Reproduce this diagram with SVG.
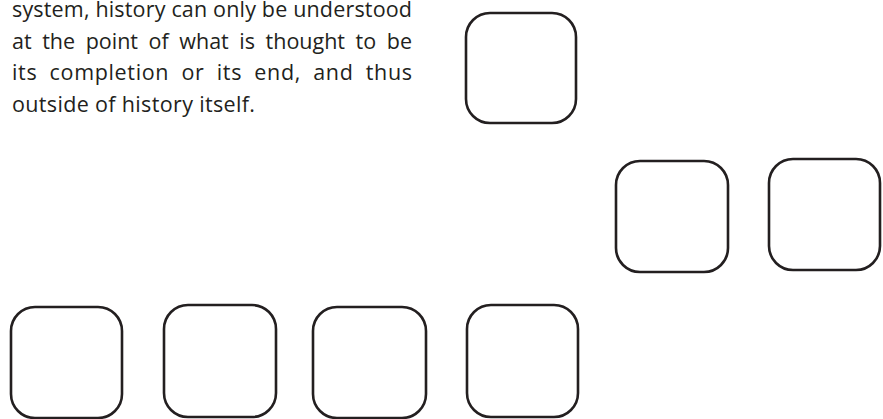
<svg xmlns="http://www.w3.org/2000/svg" width="883" height="419" viewBox="0 0 883 419">
<style>
.box{fill:#fff;stroke:#231f20;stroke-width:2.6}
.t{font-family:"Open Sans","Noto Sans",sans-serif;font-size:21.5px;fill:#231f20}
</style>
<rect width="883" height="419" fill="#fff"/>
<g id="text">
<text class="t" x="12" y="17" textLength="400" lengthAdjust="spacing">system, history can only be understood</text>
<text class="t" x="12" y="48.5" word-spacing="5" textLength="400" lengthAdjust="spacing">at the point of what is thought to be</text>
<text class="t" x="12" y="80" word-spacing="6" textLength="400" lengthAdjust="spacing">its completion or its end, and thus</text>
<text class="t" x="12" y="111.5" textLength="243" lengthAdjust="spacing">outside of history itself.</text>
</g>
<g id="node-top"><rect class="box" x="466" y="13" width="110" height="110" rx="24"/></g>
<g id="node-mid1"><rect class="box" x="616" y="161" width="112" height="111" rx="24"/></g>
<g id="node-mid2"><rect class="box" x="769" y="159" width="111" height="111" rx="24"/></g>
<g id="node-bot1"><rect class="box" x="11" y="307" width="111" height="111" rx="24"/></g>
<g id="node-bot2"><rect class="box" x="164" y="305" width="112" height="112" rx="24"/></g>
<g id="node-bot3"><rect class="box" x="313" y="307" width="113" height="111" rx="24"/></g>
<g id="node-bot4"><rect class="box" x="467" y="305" width="111" height="112" rx="24"/></g>
<g id="connectors"></g>
</svg>
